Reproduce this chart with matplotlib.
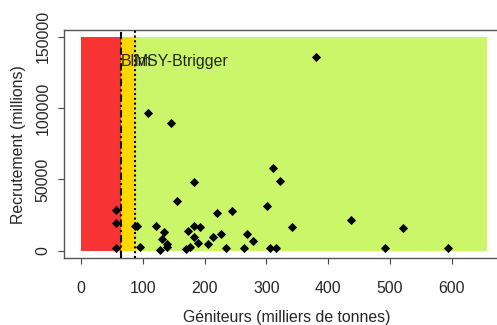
import matplotlib
matplotlib.use("Agg")
import matplotlib.pyplot as plt
from matplotlib.patches import Rectangle

plt.rcParams['font.family'] = ['Liberation Sans', 'DejaVu Sans']

# Data (spawning stock in thousand tonnes, recruitment in millions)
geniteurs = [57, 57, 57, 87, 91, 95, 108, 121, 128, 131, 135, 139, 140, 145, 155,
             170, 174, 176, 183, 183, 183, 189, 192, 205, 213, 220, 226, 235, 245,
             264, 269, 279, 301, 306, 311, 316, 323, 341, 381, 437, 493, 522, 595]
recrutement = [28500, 19200, 1700, 17000, 17000, 2800, 96600, 17300, 500, 8400, 12900,
               5000, 2800, 89800, 34600, 1000, 14000, 2400, 48000, 17300, 9400, 5200,
               16800, 4500, 9400, 26200, 11700, 1700, 27800, 2100, 11700, 6800, 31600,
               1700, 57800, 2100, 49100, 16400, 135600, 21300, 2100, 15700, 2100]

blim = 64
msy_btrigger = 88
zone_xmax = 657
zone_ymax = 150000
ref_labels = ["Blim", "MSY-Btrigger"]
xticks = [0, 100, 200, 300, 400, 500, 600]
yticks = [0, 50000, 100000, 150000]

FS = 11.4

fig = plt.figure(figsize=(4.97, 3.25), dpi=100)
ax = fig.add_axes([64/497, (325-258.3)/325, (509-64)/497, (258.3-30)/325])

ax.set_xlim(-27.5, 693)
ax.set_ylim(-5330, 154780)

ax.add_patch(Rectangle((0, 0), blim, zone_ymax, facecolor='#F83333', edgecolor='none', zorder=1))
ax.add_patch(Rectangle((blim, 0), msy_btrigger - blim, zone_ymax, facecolor='#FFD700', edgecolor='none', zorder=1))
ax.add_patch(Rectangle((msy_btrigger, 0), zone_xmax - msy_btrigger, zone_ymax, facecolor='#CBF66A', edgecolor='none', zorder=1))

ax.axvline(blim, color='black', lw=1.5, linestyle=(0, (3.5, 1.5, 1, 1.5)), zorder=3)
ax.axvline(msy_btrigger, color='black', lw=1.5, linestyle=(0, (1, 1.3)), zorder=3)

ax.text(blim, 132500, ref_labels[0], ha='left', va='center', fontsize=FS, color='#262626', zorder=4)
ax.text(msy_btrigger - 1, 132500, ref_labels[1], ha='left', va='center', fontsize=FS, color='#262626', zorder=4)

ax.plot(geniteurs, recrutement, linestyle='none', marker='D', markersize=4.3,
        markerfacecolor='black', markeredgecolor='black', markeredgewidth=0.6, zorder=5)

ax.set_xticks(xticks)
ax.set_yticks(yticks)
ax.set_xticklabels([str(v) for v in xticks])
ax.set_yticklabels([str(v) for v in yticks], rotation=90, va='center')
ax.tick_params(axis='both', direction='out', length=4, width=0.8, colors='#444444',
               labelcolor='#262626', labelsize=FS)
ax.tick_params(axis='x', pad=12.5)
ax.tick_params(axis='y', pad=5.5)

for s in ax.spines.values():
    s.set_color('#555555')
    s.set_linewidth(1.0)

ax.set_xlabel("Géniteurs (milliers de tonnes)", fontsize=FS, color='#262626', labelpad=10)
ax.set_ylabel("Recrutement (millions)", fontsize=FS, color='#262626', labelpad=7)

fig.savefig("out.png", dpi=100)
